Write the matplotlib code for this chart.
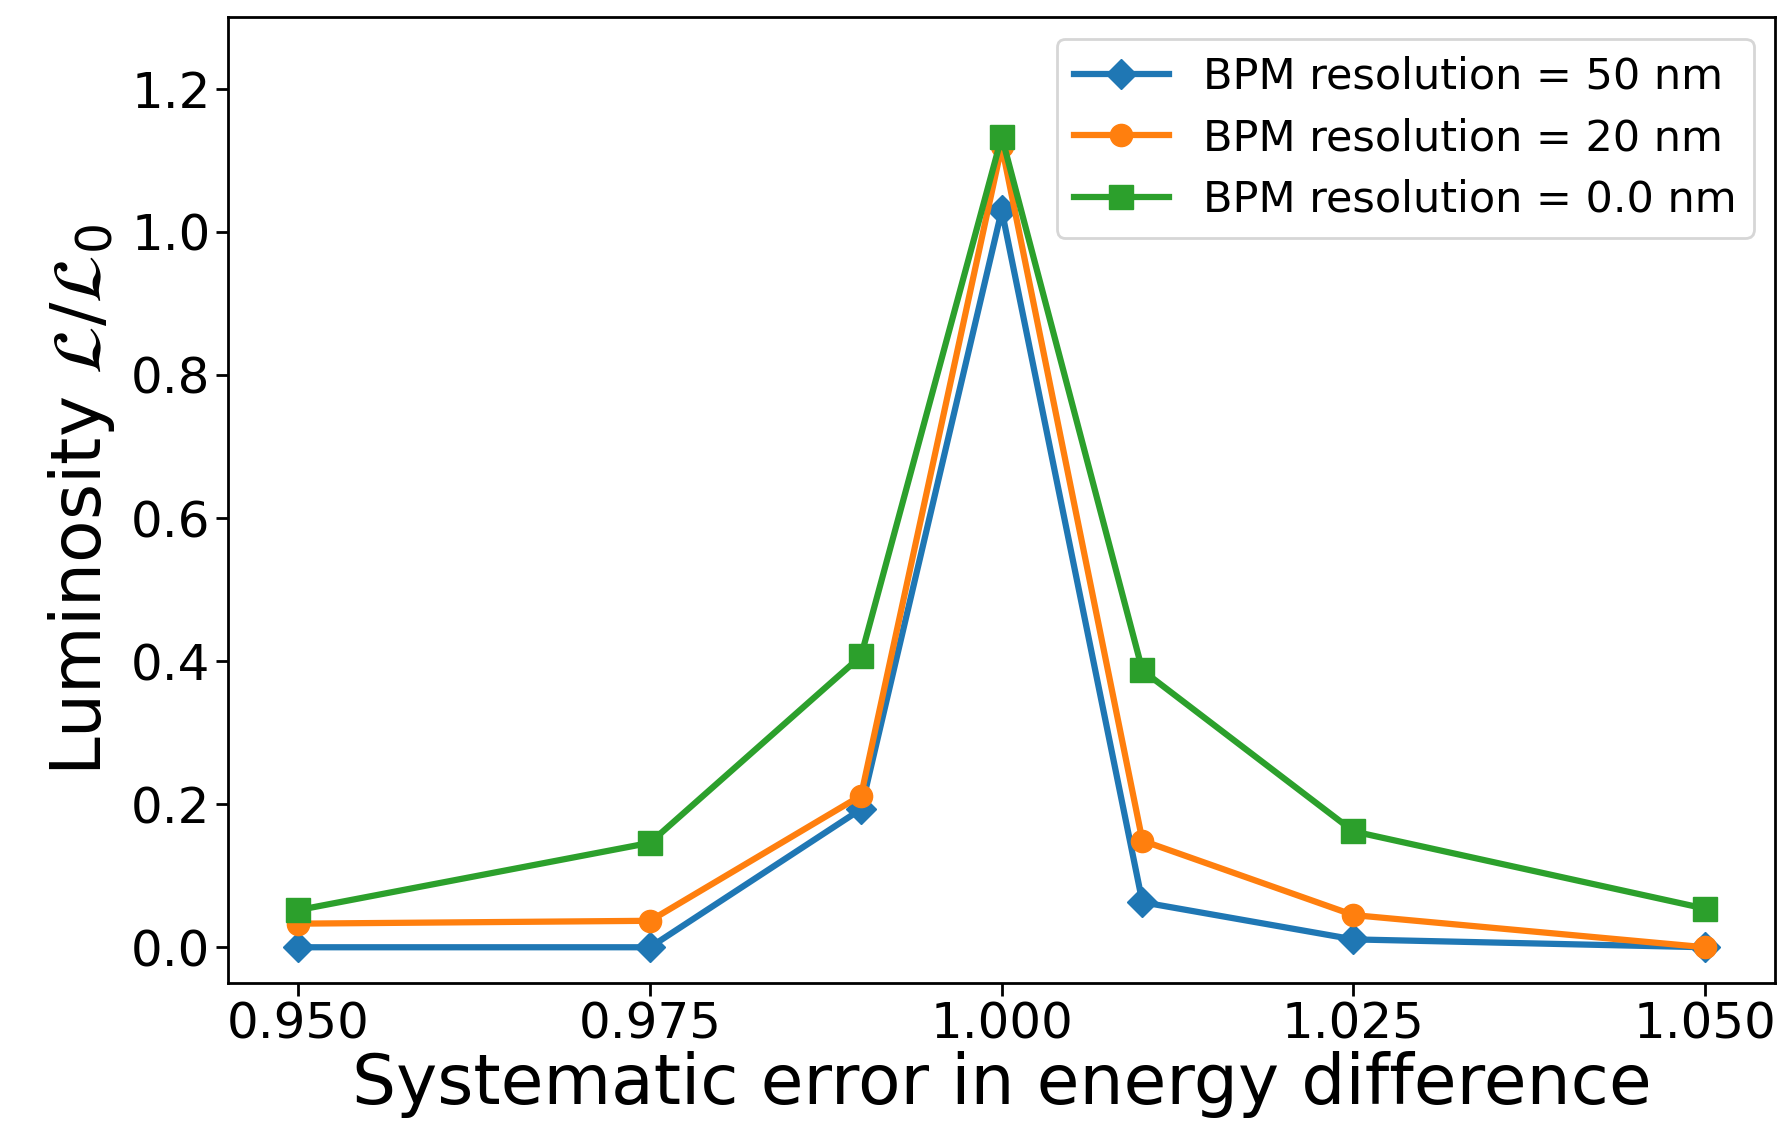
import numpy as np
import matplotlib
matplotlib.use("Agg")
import matplotlib.pyplot as plt

energy_error = [0.95, 0.975, 0.99, 1.0, 1.01, 1.025, 1.05]
lumi_50nm = [0.0, 0.0, 0.193, 1.03, 0.063, 0.011, 0.0]
lumi_20nm = [0.033, 0.037, 0.212, 1.12, 0.149, 0.045, 0.0]
lumi_0nm = [0.052, 0.146, 0.407, 1.133, 0.387, 0.162, 0.054]

labels = ["BPM resolution = 50 nm", "BPM resolution = 20 nm", "BPM resolution = 0.0 nm"]

fig = plt.figure(figsize=(17.88, 11.48), dpi=100)
ax = fig.add_axes([0.1275, 0.1437, 0.8655, 0.8413])

ax.plot(energy_error, lumi_50nm, marker='D', color='tab:blue', lw=4.5, ms=15, label=labels[0])
ax.plot(energy_error, lumi_20nm, marker='o', color='tab:orange', lw=4.5, ms=16, label=labels[1])
ax.plot(energy_error, lumi_0nm, marker='s', color='tab:green', lw=4.5, ms=17, label=labels[2])

ax.set_ylim(-0.05, 1.3)
ax.set_xticks([0.95, 0.975, 1.0, 1.025, 1.05])
ax.set_xticklabels(["0.950", "0.975", "1.000", "1.025", "1.050"])
ax.set_yticks(np.arange(0, 1.21, 0.2))
ax.tick_params(labelsize=36, width=2, length=9)
for s in ax.spines.values():
    s.set_linewidth(2)

ax.set_xlabel("Systematic error in energy difference", fontsize=50, labelpad=2)
ax.set_ylabel(r"Luminosity $\mathcal{L}/\mathcal{L}_0$", fontsize=50, labelpad=10)

leg = ax.legend(loc='upper right', fontsize=31, handlelength=2.2, borderpad=0.4,
                labelspacing=0.45, framealpha=0.8)
leg.get_frame().set_linewidth(2)

fig.savefig("out.png", dpi=100)
